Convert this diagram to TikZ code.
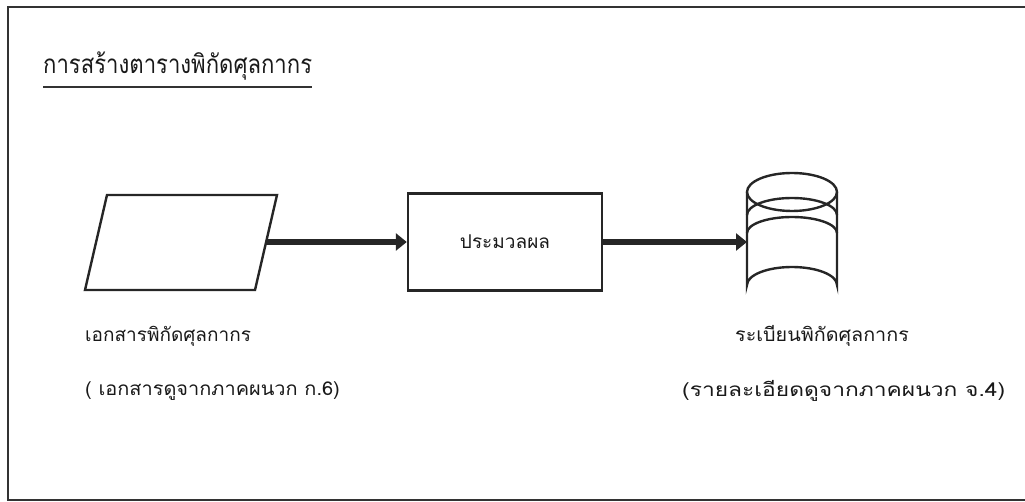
\documentclass[tikz,border=0pt]{standalone}
\usepackage{fontspec}
\newfontfamily\thai[Script=Thai]{Loma}
\usetikzlibrary{arrows.meta,calc}
\tikzset{
  ink/.style={draw=black!85, line width=2.4pt},
  flow/.style={draw=black!85, line width=5.5pt, -{Triangle[length=11pt,width=17pt]}},
  lbl/.style={font=\thai\fontsize{19}{22}\selectfont, inner sep=0pt, anchor=west, text=black!90},
  procbox/.style={ink, rectangle, minimum width=194pt, minimum height=97pt, inner sep=0pt},
}
\begin{document}
\begin{tikzpicture}[x=1pt,y=-1pt]
\useasboundingbox (0,0) rectangle (1025,502);
% frame (open on the right)
\draw[draw=black!80, line width=2pt] (1025,7) -- (8,7) -- (8,500) -- (1025,500);
% title
\node[lbl, font=\thai\fontsize{26}{30}\selectfont] (title) at (43,66) {\scalebox{0.85}[1]{การสร้างตารางพิกัดศุลกากร}};
\draw[draw=black!80, line width=1.5pt] ($(title.west)+(0,21)$) coordinate (ul1) -- ($(title.east)+(0,21)$) coordinate (ul2);
% input parallelogram
\draw[ink] (107,195) -- (277,195) -- (255,290) -- (85,290) -- cycle;
\coordinate (pin) at (266,242);
% process box
\node[procbox] (box) at (505,242) {};
\node[lbl, anchor=center] (boxt) at (box.center) {ประมวลผล};
% cylinder (database)
\coordinate (cyl) at (747,242);
\draw[ink] (747,192) -- (747,285) arc[start angle=180, end angle=360, x radius=45, y radius=18] -- (837,192);
\draw[ink] (792,192) ellipse[x radius=45, y radius=19];
\draw[ink] (747,215) arc[start angle=180, end angle=360, x radius=45, y radius=17];
\draw[ink] (747,233) arc[start angle=180, end angle=360, x radius=45, y radius=16];
% connectors
\draw[flow] (pin) -- (box.west);
\draw[flow] (box.east) -- (cyl);
% labels
\node[lbl] (l1) at (85,336) {เอกสารพิกัดศุลกากร};
\node[lbl] (l2) at (85,391) {\scalebox{1.05}[1]{( เอกสารดูจากภาคผนวก ก.6)}};
\node[lbl] (l3) at (735,336) {\scalebox{1.04}[1]{ระเบียนพิกัดศุลกากร}};
\node[lbl] (l4) at (682,391) {\scalebox{1.2}[1]{(รายละเอียดดูจากภาคผนวก จ.4)}};
\end{tikzpicture}
\end{document}
